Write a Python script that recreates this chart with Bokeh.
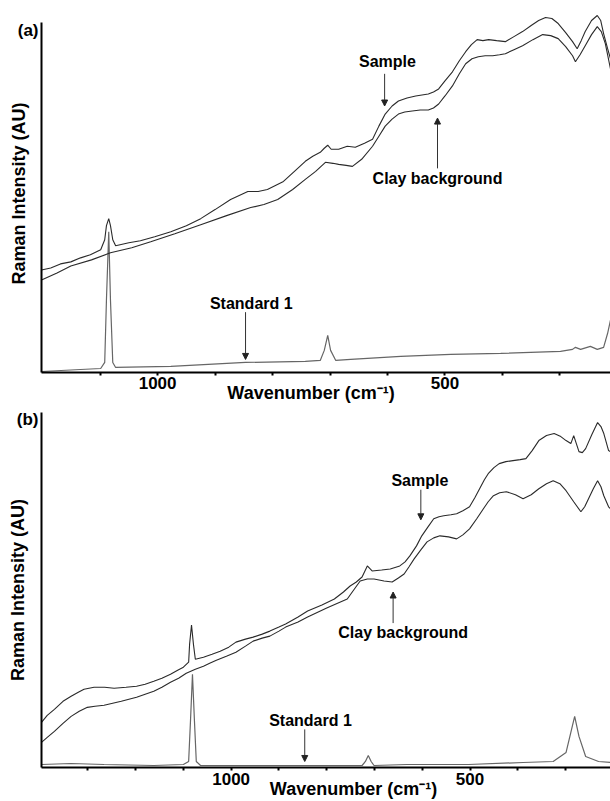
from bokeh.plotting import figure
from bokeh.layouts import column
from bokeh.models import Range1d, FixedTicker, Label, Arrow, NormalHead
from bokeh.embed import file_html
from bokeh.resources import INLINE

FONT = "Liberation Sans"

# ---------------- Panel (a) data ----------------
a_sample_wn = [1202, 1186, 1169, 1151, 1134, 1117, 1099, 1092, 1089, 1085, 1082, 1078, 1073, 1050, 1030,
               1005, 977, 950, 925, 900, 873, 843, 825, 809, 795, 781, 760, 743, 730, 717, 710, 704, 698,
               685, 670, 656, 640, 626, 615, 604, 592, 581, 566, 551, 540, 529, 520, 511, 500, 487, 475,
               464, 454, 444, 434, 424, 410, 395, 380, 365, 350, 337, 325, 314, 303, 290, 278, 270, 263,
               256, 245, 235, 229, 224, 217, 212]
a_sample_int = [102, 104, 108, 110, 114, 117, 122, 132, 146, 153, 146, 132, 126, 129, 131,
                135, 140, 146, 153, 162, 172, 180, 180, 182, 186, 190, 201, 210, 215, 219, 223, 226, 222,
                222, 225, 224, 228, 232, 245, 257, 265, 270, 273, 275, 276, 277, 279, 282, 290, 299, 310,
                319, 326, 331, 330, 331, 330, 329, 334, 339, 345, 350, 353, 352, 347, 338, 329, 322, 330,
                339, 350, 355, 350, 337, 322, 312]

a_clay_wn = [1202, 1175, 1151, 1115, 1082, 1045, 1012, 970, 925, 880, 838, 815, 791, 765, 743, 725, 708,
             695, 685, 672, 661, 645, 626, 615, 604, 592, 581, 570, 557, 543, 529, 520, 511, 500, 487,
             475, 464, 453, 442, 430, 417, 405, 395, 380, 365, 347, 330, 316, 303, 290, 278, 273, 265,
             256, 245, 235, 228, 221, 212]
a_clay_int = [92, 99, 106, 112, 119, 124, 130, 138, 147, 156, 164, 167, 172, 182, 192, 200, 209,
              208, 207, 206, 205, 212, 225, 235, 245, 252, 257, 259, 260, 261, 261, 263, 267, 275, 285,
              297, 307, 312, 314, 315, 315, 316, 317, 321, 325, 331, 336, 335, 332, 324, 315, 309, 316,
              325, 336, 344, 339, 327, 302]

a_std_wn = [1202, 1134, 1099, 1092, 1089, 1085, 1082, 1078, 1073, 977, 847, 743, 717, 710, 704, 699,
            690, 664, 577, 490, 403, 299, 278, 273, 264, 247, 235, 224, 217, 212]
a_std_int = [1, 3, 4, 10, 72, 140, 72, 10, 5, 6, 10, 11, 12, 22, 37, 22,
             12, 13, 16, 18, 19, 21, 23, 25, 23, 26, 23, 25, 39, 52]

# ---------------- Panel (b) data ----------------
b_sample_wn = [1397, 1385, 1370, 1352, 1335, 1320, 1308, 1287, 1265, 1245, 1220, 1198, 1180, 1162, 1145,
               1127, 1112, 1100, 1089, 1087, 1083, 1079, 1075, 1058, 1040, 1023, 1005, 990, 970, 954,
               935, 919, 900, 886, 860, 840, 810, 784, 765, 751, 738, 726, 715, 705, 685, 667, 647, 636,
               626, 612, 601, 588, 576, 565, 555, 540, 528, 515, 501, 490, 480, 470, 462, 450, 439, 425,
               410, 395, 383, 370, 356, 340, 324, 310, 299, 289, 283, 272, 265, 258, 245, 233, 226, 220,
               210, 206]
b_sample_int = [45, 52, 58, 66, 71, 75, 78, 80, 80, 79, 80, 81, 83, 86, 89,
                93, 97, 100, 105, 123, 142, 123, 108, 110, 113, 116, 120, 125, 128, 130,
                133, 136, 140, 143, 150, 156, 162, 168, 175, 181, 185, 190, 201, 196, 197, 198, 201, 205,
                211, 221, 231, 240, 248, 250, 251, 252, 253, 256, 260, 269, 278, 287, 293, 299, 303, 305,
                306, 307, 308, 316, 326, 331, 333, 330, 326, 323, 331, 315, 314, 318, 332, 344, 340, 333,
                316, 315]

b_clay_wn = [1397, 1385, 1370, 1352, 1335, 1318, 1301, 1285, 1266, 1230, 1198, 1180, 1162, 1145, 1127,
             1110, 1094, 1075, 1058, 1045, 1031, 1010, 990, 970, 954, 935, 919, 900, 886, 860, 840, 800,
             757, 742, 730, 715, 701, 680, 663, 650, 638, 628, 617, 603, 590, 576, 563, 545, 528, 515,
             501, 486, 472, 462, 451, 438, 424, 405, 389, 372, 356, 340, 326, 312, 299, 283, 268, 260,
             252, 242, 233, 226, 220, 210, 206]
b_clay_int = [25, 30, 36, 44, 51, 56, 60, 61, 62, 66, 70, 73, 76, 80, 85,
              89, 94, 98, 101, 104, 107, 111, 115, 121, 126, 129, 131, 136, 140, 145, 150, 159,
              168, 178, 186, 188, 188, 186, 185, 189, 193, 200, 208, 217, 225, 229, 231, 230, 228, 232,
              238, 248, 258, 265, 271, 274, 275, 272, 268, 272, 278, 283, 286, 283, 276, 265, 255, 260,
              268, 278, 286, 280, 271, 260, 258]

b_std_wn = [1397, 1335, 1266, 1162, 1100, 1089, 1085, 1081, 1077, 1073, 1064, 840, 726, 719, 713, 707,
            701, 632, 503, 389, 326, 299, 289, 281, 272, 258, 231, 206]
b_std_int = [3, 4, 3, 2, 3, 6, 48, 93, 48, 6, 2, 2, 2, 6, 12, 6,
             2, 3, 3, 5, 6, 15, 35, 51, 31, 11, 6, 5]

# ---------------- Axis ticks ----------------
a_ticks = [1100, 1000, 900, 800, 700, 600, 500, 400, 300]
b_ticks = [1300, 1200, 1100, 1000, 900, 800, 700, 600, 500, 400, 300]
tick_labels = {1000: "1000", 500: "500"}

x_title = "Wavenumber (cm\u207b\u00b9)"
y_title = "Raman Intensity (AU)"
series_labels = ["Sample", "Clay background", "Standard 1"]

NBSP = "\u00a0"


def make_panel(h, x_start, x_end, y_max, y_axis_top, border, ticks, sample, clay, std,
               letter, letter_y, ann, tick_standoff, title_standoff, title_text):
    p = figure(width=610, height=h, output_backend="svg", toolbar_location=None,
               x_range=Range1d(x_start, x_end), y_range=Range1d(0, y_max),
               min_border_left=border[0], min_border_right=0,
               min_border_top=border[1], min_border_bottom=border[2])
    p.outline_line_color = None
    p.xgrid.visible = False
    p.ygrid.visible = False
    p.background_fill_color = "white"

    # x axis
    xa = p.xaxis[0]
    xa.ticker = FixedTicker(ticks=ticks, minor_ticks=[])
    xa.major_label_overrides = {t: tick_labels.get(t, "") for t in ticks}
    xa.axis_line_width = 2
    xa.axis_line_color = "black"
    xa.major_tick_in = 0
    xa.major_tick_out = 3
    xa.major_tick_line_width = 2
    xa.minor_tick_line_color = None
    xa.major_label_text_font = FONT
    xa.major_label_text_font_style = "bold"
    xa.major_label_text_font_size = "17px"
    xa.major_label_text_color = "black"
    xa.major_label_standoff = tick_standoff
    xa.axis_label = title_text
    xa.axis_label_text_font = FONT
    xa.axis_label_text_font_style = "bold"
    xa.axis_label_text_font_size = "18px"
    xa.axis_label_text_color = "black"
    xa.axis_label_standoff = title_standoff

    # y axis: panel letter shown as the only tick label, beside the axis top
    ya = p.yaxis[0]
    ya.ticker = FixedTicker(ticks=[letter_y], minor_ticks=[])
    ya.major_label_overrides = {letter_y: letter}
    ya.major_tick_out = 0
    ya.major_tick_in = 0
    ya.minor_tick_out = 0
    ya.minor_tick_in = 0
    ya.major_label_text_font = FONT
    ya.major_label_text_font_style = "bold"
    ya.major_label_text_font_size = "17px"
    ya.major_label_text_color = "black"
    ya.major_label_standoff = 3
    ya.axis_line_width = 2
    ya.axis_line_color = "black"
    ya.bounds = (0, y_axis_top)
    ya.axis_label = y_title
    ya.axis_label_text_font = FONT
    ya.axis_label_text_font_style = "bold"
    ya.axis_label_text_font_size = "18px"
    ya.axis_label_text_color = "black"
    ya.axis_label_standoff = -14

    # spectra
    p.line(std[0], std[1], line_color="#666666", line_width=1.2)
    p.line(clay[0], clay[1], line_color="#2a2a2a", line_width=1.1)
    p.line(sample[0], sample[1], line_color="#2a2a2a", line_width=1.1)

    # annotations: label + arrow
    for text, (lx, ly), (ax, ay0, ay1) in zip(series_labels, ann["labels"], ann["arrows"]):
        p.add_layout(Label(x=lx, y=ly, text=text, text_align="center", text_baseline="middle",
                           text_font=FONT, text_font_style="bold", text_font_size="16px",
                           text_color="black"))
        p.add_layout(Arrow(x_start=ax, y_start=ay0, x_end=ax, y_end=ay1,
                           line_color="#333333", line_width=1,
                           end=NormalHead(size=6, fill_color="#222222", line_color="#222222",
                                          line_width=1)))
    return p


ann_a = {
    "labels": [(600, 309), (513, 193), (837, 69)],
    "arrows": [(605, 297, 265), (513, 203, 253), (847, 60, 13)],
}
ann_b = {
    "labels": [(605, 286), (640, 135), (834, 47)],
    "arrows": [(603, 277, 247), (661, 144, 175), (846, 38, 6)],
}

# titles are padded with no-break spaces to reproduce their off-centre placement
title_a = x_title + NBSP * 6
title_b = NBSP * 11 + x_title

fa = make_panel(405, 1202, 212, 356, 348, (41, 14, 28), a_ticks,
                (a_sample_wn, a_sample_int), (a_clay_wn, a_clay_int), (a_std_wn, a_std_int),
                "(a)", 340, ann_a, 1, -9, title_a)
fb = make_panel(396, 1397, 206, 354, 354, (37, 7, 30), b_ticks,
                (b_sample_wn, b_sample_int), (b_clay_wn, b_clay_int), (b_std_wn, b_std_int),
                "(b)", 347, ann_b, 2, -9, title_b)

layout = column(fa, fb, spacing=0)
open("out.html", "w").write(file_html(layout, INLINE))
